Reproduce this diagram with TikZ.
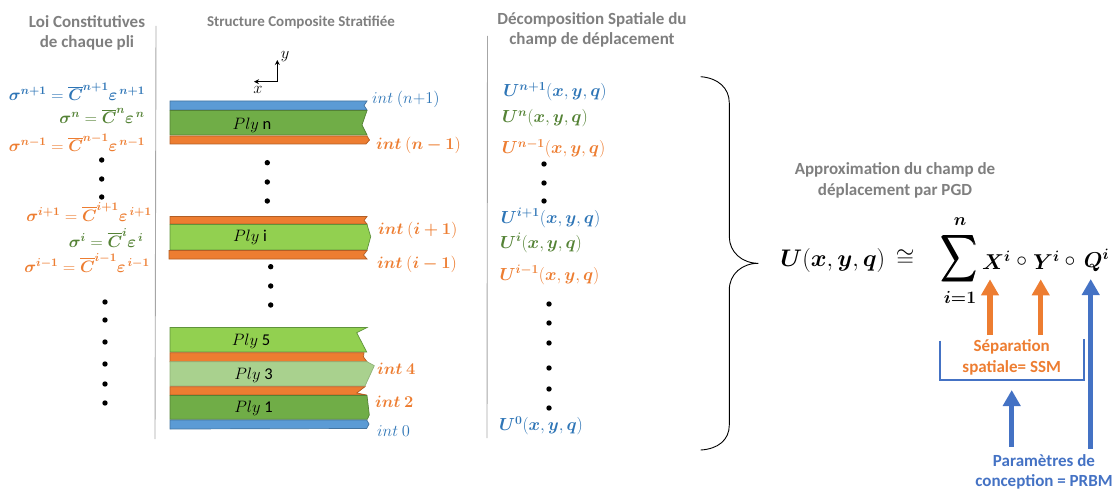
\documentclass[tikz,border=0pt]{standalone}
\usepackage{fix-cm}
\usepackage{amsmath}
\usepackage{bm}
\usepackage{fontspec}
\setmainfont{Carlito}
\usetikzlibrary{arrows.meta}
\definecolor{plyblue}{HTML}{5B9BD5}
\definecolor{plyorange}{HTML}{ED7D31}
\definecolor{plydark}{HTML}{70AD47}
\definecolor{plylight}{HTML}{92D050}
\definecolor{plypale}{HTML}{A9D18E}
\definecolor{txtblue}{HTML}{2E75B6}
\definecolor{txtgreen}{HTML}{548235}
\definecolor{txtgray}{HTML}{7F7F7F}
\definecolor{prbmblue}{HTML}{4472C4}
\newcommand{\Ufield}[1]{$\bm{U}^{\bm{#1}}(\bm{x},\bm{y},\bm{q})$}
\newcommand{\Claw}[1]{$\bm{\sigma}^{\bm{#1}}=\overline{\bm{C}}^{\bm{#1}}\bm{\varepsilon}^{\,\bm{#1}}$}

\begin{document}
\begin{tikzpicture}[x=1pt,y=1pt,
  headlabel/.style={font=\fontsize{17}{20}\selectfont\bfseries,text=txtgray},
  eqlabel/.style={font=\fontsize{16.5}{20}\selectfont},
  fieldlabel/.style={font=\fontsize{17.5}{21}\selectfont},
  intlabel/.style={font=\fontsize{16.5}{20}\selectfont,anchor=west},
  plylabel/.style={font=\fontsize{16.5}{20}\selectfont,text=black},
  bigmath/.style={font=\fontsize{24}{29}\selectfont},
  termmath/.style={font=\fontsize{21.5}{26}\selectfont},
  limitmath/.style={font=\fontsize{17.5}{21}\selectfont},
  bluelayer/.style={fill=plyblue,draw=plyblue!75!black,line width=0.7},
  orangelayer/.style={fill=plyorange,draw=plyorange!75!black,line width=0.7},
  darklayer/.style={fill=plydark,draw=plydark!75!black,line width=0.7},
  lightlayer/.style={fill=plylight,draw=plydark!85!black,line width=0.7},
  palelayer/.style={fill=plypale,draw=plypale!85!black,line width=0.7},
  bigorange/.style={draw=plyorange,line width=5.5,-{Triangle[length=16,width=17]}},
  bigblue/.style={draw=prbmblue,line width=5.5,-{Triangle[length=16,width=17]}},
  axisline/.style={draw=black,line width=0.9,-{Stealth[length=5,width=5]}}]
\tikzstyle{every node}+=[inner sep=0pt]
\useasboundingbox (0,0) rectangle (1118,-489);
% column separators
\draw [gray!70,line width=0.9] (156,-26) -- (155,-439);
\draw [gray!70,line width=0.9] (487.5,-36) -- (487,-438);
% column titles
\draw (87,-22) node [headlabel] (loititle) {Loi Constitutives};
\draw (87,-43) node [headlabel] (plititle) {de chaque pli};
\draw (301,-22) node [headlabel,font=\fontsize{15}{18}\selectfont\bfseries] (structtitle) {Structure Composite Stratifiée};
\draw (592,-20) node [headlabel] (decomptitle) {Décomposition Spatiale du};
\draw (592,-40) node [headlabel] (champtitle) {champ de déplacement};
\draw (895,-170) node [headlabel] (approxtitle) {Approximation du champ de};
\draw (895,-191) node [headlabel] (pgdtitle) {déplacement par PGD};
% constitutive laws
\draw (77,-92) node [eqlabel,text=txtblue] (lawnp) {\Claw{n+1}};
\draw (102,-116) node [eqlabel,text=txtgreen] (lawn) {\Claw{n}};
\draw (77,-143) node [eqlabel,text=plyorange] (lawnm) {\Claw{n-1}};
\draw (89,-212) node [eqlabel,text=plyorange] (lawip) {\Claw{i+1}};
\draw (106,-238) node [eqlabel,text=txtgreen] (lawi) {\Claw{i}};
\draw (87,-263) node [eqlabel,text=plyorange] (lawim) {\Claw{i-1}};
\fill [black] (101.7,-160) circle (2.7);
\fill [black] (101.7,-179) circle (2.7);
\fill [black] (101.7,-197) circle (2.7);
\fill [black] (105,-302) circle (2.7);
\fill [black] (105,-320) circle (2.7);
\fill [black] (105,-342) circle (2.7);
\fill [black] (105,-364) circle (2.7);
\fill [black] (105,-384) circle (2.7);
\fill [black] (105,-403) circle (2.7);
% axes
\coordinate (axo) at (277.3,-81.7);
\coordinate (axy) at (277.3,-60);
\coordinate (axx) at (254,-81.7);
\draw [axisline] (axo) -- (axy);
\draw [axisline] (axo) -- (axx);
\draw (285,-57) node [plylabel] (axylabel) {$y$};
\draw (258,-90) node [plylabel] (axxlabel) {$x$};
% stack top
\draw [bluelayer] (170,-101) -- (367,-101) -- (364,-105.5) -- (367,-110) -- (170,-110) -- cycle;
\draw [darklayer] (170,-110.5) -- (367,-110.5) -- (362,-125) -- (367,-135) -- (170,-135) -- cycle;
\draw [orangelayer] (170,-136) -- (367,-136) -- (369.5,-140) -- (366,-144) -- (170,-144) -- cycle;
\draw (252,-125) node [plylabel] (plyn) {$Ply$ n};
\fill [black] (267.3,-162.7) circle (2.7);
\fill [black] (267.3,-182) circle (2.7);
\fill [black] (267.3,-201) circle (2.7);
% stack middle
\draw [orangelayer] (170,-216.5) -- (367,-216.5) -- (364,-220.5) -- (367,-224) -- (170,-224) -- cycle;
\draw [lightlayer] (170,-224.5) -- (367,-224.5) -- (370.7,-236.7) -- (367,-250) -- (170,-250) -- cycle;
\draw [orangelayer] (169,-250.5) -- (367,-250.5) -- (363.5,-255) -- (367,-259) -- (169,-259) -- cycle;
\draw (250,-237) node [plylabel] (plyi) {$Ply$ i};
\fill [black] (270.7,-266.7) circle (2.7);
\fill [black] (270.7,-286) circle (2.7);
\fill [black] (270.7,-305) circle (2.7);
% stack bottom
\draw [lightlayer] (170,-327.5) -- (367,-327.5) -- (356.7,-332.7) -- (366.7,-352) -- (170,-352) -- cycle;
\draw [orangelayer] (170,-352.7) -- (364,-352.7) -- (363.5,-357) -- (367,-361.7) -- (170,-361.7) -- cycle;
\draw [palelayer] (170,-361.7) -- (367,-361.7) -- (374.3,-365.7) -- (365,-386) -- (170,-386) -- cycle;
\draw [orangelayer] (170,-386.7) -- (365,-386.7) -- (356.7,-393) -- (366.7,-395) -- (170,-395) -- cycle;
\draw [darklayer] (170,-395.5) -- (367,-395.5) -- (369.3,-415) -- (367.3,-419.3) -- (170,-419.3) -- cycle;
\draw [bluelayer] (170,-420) -- (366.7,-420) -- (369,-424) -- (366.7,-428.5) -- (170,-429) -- cycle;
\draw (251,-341) node [plylabel] (plyfive) {$Ply$ 5};
\draw (253.5,-375) node [plylabel] (plythree) {$Ply$ 3};
\draw (253.5,-408) node [plylabel] (plyone) {$Ply$ 1};
% interface labels
\draw (372,-99) node [intlabel,text=txtblue] (intnp) {$int$ $(n{+}1)$};
\draw (376,-145) node [intlabel,text=plyorange] (intnm) {$\bm{int}$ $(\bm{n-1})$};
\draw (378,-230) node [intlabel,text=plyorange] (intip) {$\bm{int}$ $(\bm{i+1})$};
\draw (377,-264) node [intlabel,text=plyorange] (intim) {$\bm{int}$ $(\bm{i-1})$};
\draw (377,-369) node [intlabel,text=plyorange] (intfour) {$\bm{int}$ $\bm{4}$};
\draw (375,-402) node [intlabel,text=plyorange] (inttwo) {$\bm{int}$ $\bm{2}$};
\draw (377,-431) node [intlabel,text=txtblue] (intzero) {$int$ $0$};
% displacement fields
\draw (555,-92) node [fieldlabel,text=txtblue] (unp) {\Ufield{n+1}};
\draw (545,-118) node [fieldlabel,text=txtgreen] (un) {\Ufield{n}};
\draw (553.5,-149) node [fieldlabel,text=plyorange] (unm) {\Ufield{n-1}};
\draw (550.5,-218) node [fieldlabel,text=txtblue] (uip) {\Ufield{i+1}};
\draw (541,-243) node [fieldlabel,text=txtgreen] (ui) {\Ufield{i}};
\draw (549.5,-275) node [fieldlabel,text=plyorange] (uim) {\Ufield{i-1}};
\draw (541,-426) node [fieldlabel,text=txtblue] (uzero) {\Ufield{0}};
\fill [black] (544,-164) circle (2.7);
\fill [black] (544,-183) circle (2.7);
\fill [black] (544,-201) circle (2.7);
\fill [black] (549,-304) circle (2.7);
\fill [black] (549,-323) circle (2.7);
\fill [black] (549,-343) circle (2.7);
\fill [black] (549,-368) circle (2.7);
\fill [black] (549,-389) circle (2.7);
\fill [black] (549,-408) circle (2.7);
% brace
\draw [black,line width=0.9] (700.7,-76.7) .. controls (718,-78) and (729.3,-88) .. (729.3,-103) -- (729.3,-236.7) .. controls (729.3,-252) and (742,-263.3) .. (758.3,-263.3) .. controls (742,-263.3) and (729.3,-274) .. (729.3,-290) -- (729.3,-425) .. controls (729.3,-440) and (718,-449) .. (700.7,-450);
% main formula
\draw (847.5,-260) node [bigmath] (ufull) {$\bm{U}(\bm{x},\bm{y},\bm{q})\,\cong$};
\draw (959,-259) node [font=\fontsize{23}{28}\selectfont] (sumsign) {\scalebox{1}[1.3]{$\displaystyle\bm{\sum}$}};
\draw (960,-222) node [limitmath] (sumtop) {$\bm{n}$};
\draw (960,-297) node [limitmath] (sumbot) {$\bm{i{=}1}$};
\draw (996.5,-260) node [termmath] (xterm) {$\bm{X}^{\bm{i}}$};
\draw (1021.7,-262) node [termmath] (ringa) {$\circ$};
\draw (1046.5,-260) node [termmath] (yterm) {$\bm{Y}^{\bm{i}}$};
\draw (1070,-262) node [termmath] (ringb) {$\circ$};
\draw (1096.5,-260) node [termmath] (qterm) {$\bm{Q}^{\bm{i}}$};
% arrows and bracket
\coordinate (xtail) at (990,-335);
\coordinate (xhead) at (990,-279.3);
\coordinate (ytail) at (1040.7,-335);
\coordinate (yhead) at (1040.7,-279.3);
\coordinate (qtail) at (1090.7,-449);
\coordinate (qhead) at (1090.7,-279);
\coordinate (btail) at (1011.7,-446.7);
\coordinate (bhead) at (1011.7,-390);
\coordinate (brleft) at (940,-340.7);
\coordinate (brlow) at (940,-380);
\coordinate (brlowr) at (1084,-380);
\coordinate (brright) at (1084,-339.3);
\draw [bigorange] (xtail) -- (xhead);
\draw [bigorange] (ytail) -- (yhead);
\draw [bigblue] (qtail) -- (qhead);
\draw [bigblue] (btail) -- (bhead);
\draw [prbmblue,line width=1.8] (brleft) -- (brlow) -- (brlowr) -- (brright);
\draw (1011.7,-347) node [headlabel,text=plyorange] (septitle) {Séparation};
\draw (1011.7,-368) node [headlabel,text=plyorange] (ssmtitle) {spatiale= SSM};
\draw (1044,-461) node [headlabel,text=prbmblue] (paramtitle) {Paramètres de};
\draw (1044,-482) node [headlabel,text=prbmblue] (prbmtitle) {conception = PRBM};
\end{tikzpicture}
\end{document}
